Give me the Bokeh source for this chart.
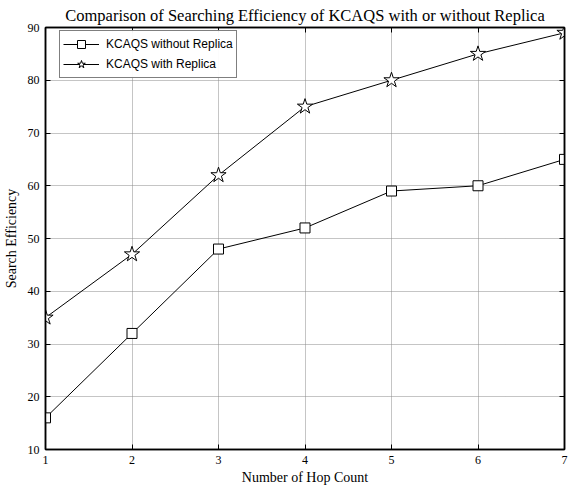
from bokeh.plotting import figure
from bokeh.models import (Range1d, LinearAxis, Legend, LegendItem, FixedTicker, Title,
                          CustomJSTickFormatter)
from bokeh.embed import file_html
from bokeh.resources import INLINE

hops = [1, 2, 3, 4, 5, 6, 7]
without_replica = [16, 32, 48, 52, 59, 60, 65]
with_replica = [35, 47, 62, 75, 80, 85, 89]
x_ticks = [1, 2, 3, 4, 5, 6, 7]
y_ticks = [10, 20, 30, 40, 50, 60, 70, 80, 90]

TICK_FONT = "Liberation Sans Narrow"
SERIF = "Liberation Serif"

p = figure(width=573, height=487, output_backend="svg", toolbar_location=None,
           x_range=Range1d(1, 7), y_range=Range1d(10, 90),
           min_border_left=45, min_border_right=9, min_border_top=25, min_border_bottom=36)
p.title = Title(text="Comparison of Searching Efficiency of KCAQS with or without Replica",
                align="center", text_font=SERIF, text_font_size="16.5px",
                text_font_style="normal", text_color="black", text_line_height=1.0,
                standoff=6, offset=0)

p.outline_line_color = "black"
p.outline_line_width = 1.5
p.background_fill_color = "white"
p.border_fill_color = "white"

for ax in [p.xaxis[0], p.yaxis[0]]:
    ax.major_tick_in = 5
    ax.major_tick_out = 0
    ax.minor_tick_in = 0
    ax.minor_tick_out = 0
    ax.axis_line_color = "black"
    ax.axis_line_width = 1.5
    ax.major_tick_line_color = "black"
    ax.major_label_text_font = TICK_FONT
    ax.major_label_text_font_size = "12px"
    ax.major_label_text_line_height = 1.0
    ax.major_label_text_color = "black"
    ax.axis_label_text_font = SERIF
    ax.axis_label_text_font_size = "14px"
    ax.axis_label_text_line_height = 1.0
    ax.axis_label_text_font_style = "normal"
    ax.axis_label_text_color = "black"

p.xaxis[0].ticker = FixedTicker(ticks=x_ticks)
p.yaxis[0].ticker = FixedTicker(ticks=y_ticks)
p.xaxis[0].axis_label = "Number of Hop Count"
p.yaxis[0].axis_label = "Search Efficiency"
p.xaxis[0].major_label_standoff = 6
p.yaxis[0].major_label_standoff = 6
p.xaxis[0].axis_label_standoff = 3
p.yaxis[0].axis_label_standoff = 6

blank = CustomJSTickFormatter(code="return ''")
top_ax = LinearAxis(ticker=FixedTicker(ticks=x_ticks), formatter=blank,
                    major_tick_in=5, major_tick_out=0, minor_tick_in=0, minor_tick_out=0,
                    major_label_standoff=0,
                    axis_line_color="black", axis_line_width=1.5)
right_ax = LinearAxis(ticker=FixedTicker(ticks=y_ticks), formatter=blank,
                      major_tick_in=5, major_tick_out=0, minor_tick_in=0, minor_tick_out=0,
                      major_label_standoff=0,
                      axis_line_color="black", axis_line_width=1.5)
p.add_layout(top_ax, "above")
p.add_layout(right_ax, "right")

for g in [p.xgrid[0], p.ygrid[0]]:
    g.grid_line_color = "#8a8a8a"
    g.grid_line_dash = "1 1"
    g.grid_line_width = 1
p.xgrid[0].ticker = FixedTicker(ticks=x_ticks)
p.ygrid[0].ticker = FixedTicker(ticks=y_ticks)

l1 = p.line(hops, without_replica, line_color="black", line_width=1)
m1 = p.scatter(hops, without_replica, marker="square", size=10, fill_color="white",
               line_color="black", line_width=1)
l2 = p.line(hops, with_replica, line_color="black", line_width=1)
m2 = p.scatter(hops, with_replica, marker="star", size=16, fill_color="white",
               line_color="black", line_width=1)

legend = Legend(items=[LegendItem(label="KCAQS without Replica", renderers=[l1, m1]),
                       LegendItem(label="KCAQS with Replica", renderers=[l2, m2])],
                location=(14, 371), label_text_font="Liberation Sans",
                label_text_font_size="12px", label_text_color="black",
                border_line_color="black", border_line_width=1.5,
                glyph_width=36, glyph_height=20, label_standoff=7,
                spacing=0, padding=3, margin=0, label_height=20)
p.add_layout(legend)

open("out.html", "w").write(file_html(p, INLINE))
